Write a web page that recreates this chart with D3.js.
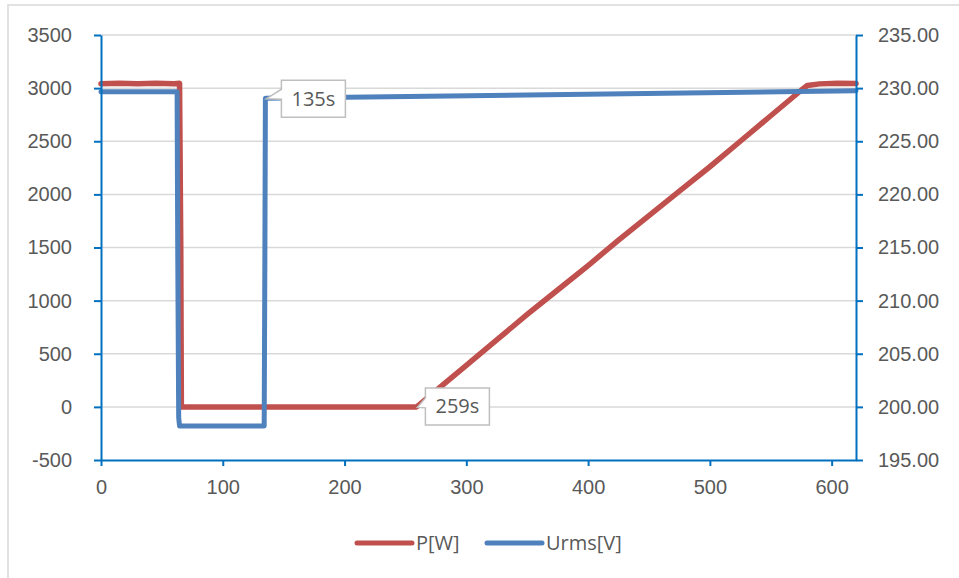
<!DOCTYPE html>
<html>
<head>
<meta charset="utf-8">
<script src="https://cdn.jsdelivr.net/npm/d3@7"></script>
<style>
  body { margin: 0; background: #fff; }
  svg { display: block; font-family: "Open Sans", sans-serif; }
  .axis text { fill: #595959; font-size: 20px; }
</style>
</head>
<body>
<svg id="chart" width="959" height="578"></svg>
<script>
// data: time [s]
var powerTime = [0, 15, 30, 45, 60, 64.5, 65.5, 66, 259, 262, 280, 300, 325, 350, 375, 400, 425, 450, 475, 500, 525, 550, 575, 580, 590, 605, 620];
var powerW    = [3042, 3046, 3041, 3045, 3042, 3045, 1500, 0, 0, 25, 200, 390, 630, 870, 1100, 1330, 1570, 1800, 2030, 2260, 2500, 2740, 2980, 3025, 3040, 3045, 3044];

var voltTime = [0, 62.5, 63, 63.8, 64.5, 134, 134.6, 135, 620];
var voltV    = [229.65, 229.65, 215, 199.0, 198.2, 198.2, 215, 229.05, 229.75];

var leftTicks  = [-500, 0, 500, 1000, 1500, 2000, 2500, 3000, 3500];
var rightTicks = [195, 200, 205, 210, 215, 220, 225, 230, 235];
var xTicks     = [0, 100, 200, 300, 400, 500, 600];

var seriesNames = ["P[W]", "Urms[V]"];
var seriesColors = ["#C0504D", "#4F81BD"];
var callouts = [
    { label: "135s", t: 135, series: 1, dx: 16, dy: -18 },
    { label: "259s", t: 259, series: 0, dx: 9, dy: -19 }
];

// layout
var margin = { top: 35, right: 103, bottom: 118, left: 101 },
    width = 959 - margin.left - margin.right,
    height = 578 - margin.top - margin.bottom;

var svg = d3.select("#chart");

// outer chart border (cut off on the right and bottom)
svg.append("rect")
    .attr("x", 8).attr("y", 5)
    .attr("width", 980).attr("height", 600)
    .attr("fill", "none")
    .attr("stroke", "#d9d9d9")
    .attr("stroke-width", 1.5);

var g = svg.append("g")
    .attr("transform", "translate(" + margin.left + "," + margin.top + ")");

var x = d3.scaleLinear().domain([0, 620]).range([0, width]);
var yL = d3.scaleLinear().domain([-500, 3500]).range([height, 0]);
var yR = d3.scaleLinear().domain([195, 235]).range([height, 0]);

// gridlines
g.append("g")
    .selectAll("line")
    .data(leftTicks.slice(1))
    .enter()
    .append("line")
    .attr("x1", 0).attr("x2", width)
    .attr("y1", function (d) { return yL(d); })
    .attr("y2", function (d) { return yL(d); })
    .attr("stroke", "#d9d9d9")
    .attr("stroke-width", 1.5);

// series
var powerData = powerTime.map(function (t, i) { return [t, powerW[i]]; });
var voltData = voltTime.map(function (t, i) { return [t, voltV[i]]; });

var lineL = d3.line()
    .x(function (d) { return x(d[0]); })
    .y(function (d) { return yL(d[1]); });
var lineR = d3.line()
    .x(function (d) { return x(d[0]); })
    .y(function (d) { return yR(d[1]); });

g.append("path")
    .datum(powerData)
    .attr("d", lineL)
    .attr("fill", "none")
    .attr("stroke", seriesColors[0])
    .attr("stroke-width", 5.5)
    .attr("stroke-linejoin", "round")
    .attr("stroke-linecap", "round");

g.append("path")
    .datum(voltData)
    .attr("d", lineR)
    .attr("fill", "none")
    .attr("stroke", seriesColors[1])
    .attr("stroke-width", 5)
    .attr("stroke-linejoin", "round")
    .attr("stroke-linecap", "round");

// axes
function styleAxis(sel) {
    sel.select(".domain").attr("stroke", "#0070C0").attr("stroke-width", 2);
    sel.selectAll(".tick line").attr("stroke", "#0070C0").attr("stroke-width", 2);
    sel.selectAll("text").attr("fill", "#595959").style("font-size", "20px");
}

g.append("g")
    .attr("class", "axis")
    .call(d3.axisLeft(yL).tickValues(leftTicks).tickFormat(function (d) { return String(d); })
        .tickSize(7).tickSizeOuter(0).tickPadding(22))
    .call(styleAxis);

g.append("g")
    .attr("class", "axis")
    .attr("transform", "translate(" + width + ",0)")
    .call(d3.axisRight(yR).tickValues(rightTicks).tickFormat(d3.format(".2f"))
        .tickSize(7).tickSizeOuter(0).tickPadding(15))
    .call(styleAxis);

g.append("g")
    .attr("class", "axis")
    .attr("transform", "translate(0," + height + ")")
    .call(d3.axisBottom(x).tickValues(xTicks).tickSize(6).tickSizeOuter(0).tickPadding(14))
    .call(styleAxis);

// callouts
callouts.forEach(function (c) {
    var tx = x(c.t);
    var ty = c.series === 0 ? yL(0) : yR(voltV[voltTime.indexOf(c.t)]);
    var bx = tx + c.dx, by = ty + c.dy, bw = 64, bh = 37;
    var cg = g.append("g");
    cg.append("path")
        .attr("d", "M" + bx + "," + by + " H" + (bx + bw) + " V" + (by + bh) + " H" + bx +
              " V" + (ty + 1) + " L" + (tx + 1) + "," + (ty + 0.5) + " L" + bx + "," + (ty - 9) + " Z")
        .attr("fill", "#fff")
        .attr("stroke", "#bfbfbf")
        .attr("stroke-width", 1.5);
    cg.append("text")
        .attr("x", bx + bw / 2)
        .attr("y", by + bh / 2 + 7)
        .attr("text-anchor", "middle")
        .attr("fill", "#595959")
        .style("font-size", "20px")
        .text(c.label);
});

// legend
var legendX = [357, 487];
var legend = svg.append("g");
seriesNames.forEach(function (name, i) {
    legend.append("line")
        .attr("x1", legendX[i]).attr("x2", legendX[i] + 55)
        .attr("y1", 543).attr("y2", 543)
        .attr("stroke", seriesColors[i])
        .attr("stroke-width", 5)
        .attr("stroke-linecap", "round");
    legend.append("text")
        .attr("x", legendX[i] + 59)
        .attr("y", 550)
        .attr("fill", "#595959")
        .style("font-size", "20px")
        .text(name);
});
</script>
</body>
</html>
